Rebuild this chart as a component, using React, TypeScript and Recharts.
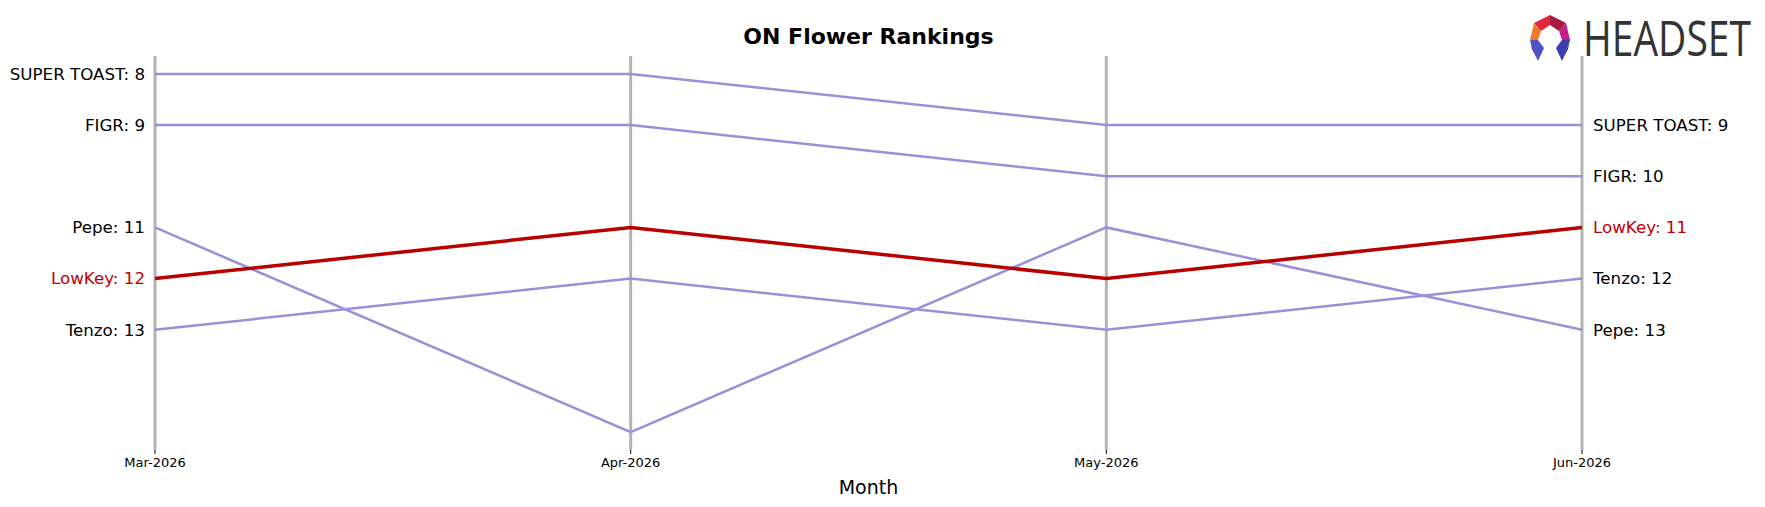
import { Line, LineChart, ReferenceLine, XAxis, YAxis } from "recharts";

const months = ["Mar-2026", "Apr-2026", "May-2026", "Jun-2026"];

const superToast = [8, 8, 9, 9];
const figr = [9, 9, 10, 10];
const pepe = [11, 15, 11, 13];
const tenzo = [13, 12, 13, 12];
const lowKey = [12, 11, 12, 11];

const brands = [
  { key: "superToast", name: "SUPER TOAST", values: superToast },
  { key: "figr", name: "FIGR", values: figr },
  { key: "pepe", name: "Pepe", values: pepe },
  { key: "tenzo", name: "Tenzo", values: tenzo },
  { key: "lowKey", name: "LowKey", values: lowKey },
];

const data = months.map((month, i) => {
  const row: Record<string, string | number> = { month };
  brands.forEach((b) => (row[b.key] = b.values[i]));
  return row;
});

const PURPLE = "#9b8fda";
const RED = "#b80000";
const FONT = "DejaVu Sans, sans-serif";

function endLabel(name: string, color: string) {
  return (props: any) => {
    const { x, y, index, value } = props;
    if (index !== 0 && index !== months.length - 1) return null;
    const left = index === 0;
    return (
      <text
        key={`${name}-${index}`}
        x={left ? x - 10 : x + 11}
        y={y}
        dy="0.35em"
        textAnchor={left ? "end" : "start"}
        fontSize={16.7}
        fontFamily={FONT}
        fill={color}
      >
        {`${name}: ${value}`}
      </text>
    );
  };
}

function Logo() {
  return (
    <>
      <svg
        width={50}
        height={52}
        style={{ position: "absolute", left: 1526, top: 12 }}
      >
        <polygon points="24,3 8,11 15,19 24,13" fill="#e0283a" />
        <polygon points="24,3 40,11 33,19 24,13" fill="#a8183f" />
        <polygon points="8,11 4,28 12,28 15,19" fill="#f07a2a" />
        <polygon points="40,11 44,28 36,28 33,19" fill="#c21f8a" />
        <polygon points="4,28 12,28 18,36 12,49" fill="#5052c8" />
        <polygon points="44,28 36,28 30,36 36,49" fill="#3d3cae" />
        <polygon points="4,28 12,49 6,37" fill="#2b2a86" />
        <polygon points="44,28 36,49 42,37" fill="#2b2a86" />
      </svg>
      <div
        style={{
          position: "absolute",
          left: 1583,
          top: 12,
          fontSize: 50,
          lineHeight: "50px",
          fontFamily: "Open Sans, sans-serif",
          color: "#333333",
          whiteSpace: "nowrap",
          transform: "scaleX(0.78)",
          transformOrigin: "0 0",
        }}
      >
        HEADSET
      </div>
    </>
  );
}

export default function App() {
  return (
    <div
      style={{
        position: "absolute",
        left: 0,
        top: 0,
        width: 1765,
        height: 507,
        background: "#fff",
        fontFamily: FONT,
      }}
    >
      <LineChart
        width={1765}
        height={507}
        data={data}
        margin={{ top: 56, right: 183, bottom: 0, left: 155 }}
      >
        <XAxis
          dataKey="month"
          axisLine={false}
          tickLine={{ stroke: "#000", strokeWidth: 1 }}
          tickSize={4}
          tickMargin={4}
          tick={{ fontSize: 13, fill: "#000", fontFamily: FONT }}
          interval={0}
          height={57}
        />
        <YAxis hide type="number" domain={[7.65, 15.35]} reversed />
        {months.map((m) => (
          <ReferenceLine key={m} x={m} stroke="#b3b3b3" strokeWidth={3} />
        ))}
        {brands
          .filter((b) => b.key !== "lowKey")
          .map((b) => (
            <Line
              key={b.key}
              dataKey={b.key}
              type="linear"
              stroke={PURPLE}
              strokeWidth={2.5}
              dot={false}
              activeDot={false}
              isAnimationActive={false}
              label={endLabel(b.name, "#000")}
            />
          ))}
        <Line
          dataKey="lowKey"
          type="linear"
          stroke={RED}
          strokeWidth={3.5}
          dot={false}
          activeDot={false}
          isAnimationActive={false}
          label={endLabel("LowKey", "#c00000")}
        />
      </LineChart>
      <div
        style={{
          position: "absolute",
          left: 0,
          width: 1737,
          top: 24,
          textAlign: "center",
          fontSize: 22,
          fontWeight: "bold",
          lineHeight: "26px",
        }}
      >
        ON Flower Rankings
      </div>
      <div
        style={{
          position: "absolute",
          left: 0,
          width: 1737,
          top: 475,
          textAlign: "center",
          fontSize: 19,
          lineHeight: "24px",
        }}
      >
        Month
      </div>
      <Logo />
    </div>
  );
}
